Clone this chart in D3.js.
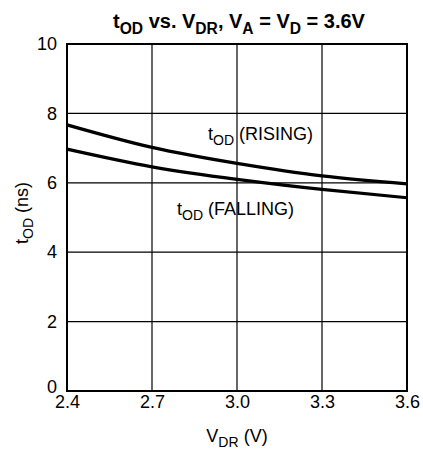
<!DOCTYPE html>
<html><head><meta charset="utf-8">
<script src="https://cdn.jsdelivr.net/npm/d3@7/dist/d3.min.js"></script>
<style>
body{margin:0;background:#fff;}
text{font-family:"Liberation Sans",Arial,sans-serif;fill:#000;}
</style></head>
<body><svg id="c" width="423" height="450"></svg>
<script>
const vdr = [2.4, 2.7, 3.0, 3.3, 3.6];
const rising = [7.67, 7.02, 6.56, 6.2, 5.97];
const falling = [6.97, 6.46, 6.1, 5.81, 5.57];
const xTicks = [2.4, 2.7, 3.0, 3.3, 3.6];
const yTicks = [0, 2, 4, 6, 8, 10];

const svg = d3.select("#c");
const m = {l:67, r:16, t:44, b:59};
const W = 423, H = 450;
const x = d3.scaleLinear().domain([2.4, 3.6]).range([m.l, W - m.r]);
const y = d3.scaleLinear().domain([0, 10]).range([H - m.b, m.t]);
const FONT = "Liberation Sans, Arial, sans-serif";

// grid
const g = svg.append("g");
g.selectAll(".vx").data(xTicks.slice(1, -1)).join("line")
  .attr("x1", d => x(d)).attr("x2", d => x(d)).attr("y1", y(0)).attr("y2", y(10))
  .attr("stroke", "#000").attr("stroke-width", 1.2);
g.selectAll(".hy").data(yTicks.slice(1, -1)).join("line")
  .attr("y1", d => y(d)).attr("y2", d => y(d)).attr("x1", x(2.4)).attr("x2", x(3.6))
  .attr("stroke", "#000").attr("stroke-width", 1.2);

// axes (labels only)
const xa = svg.append("g").attr("transform", `translate(0,${y(0)})`)
  .call(d3.axisBottom(x).tickValues(xTicks).tickFormat(d3.format(".1f")).tickSize(0).tickPadding(4));
xa.select(".domain").remove();
xa.selectAll("text").attr("font-size", 18).attr("font-family", FONT);
const ya = svg.append("g").attr("transform", `translate(${x(2.4)},0)`)
  .call(d3.axisLeft(y).tickValues(yTicks).tickFormat(d3.format("d")).tickSize(0).tickPadding(10));
ya.select(".domain").remove();
ya.selectAll("text").attr("font-size", 18).attr("font-family", FONT);
ya.selectAll(".tick").filter(d => d === 0).select("text").attr("dy", "0.1em");

// frame
svg.append("rect").attr("x", x(2.4)).attr("y", y(10))
  .attr("width", x(3.6) - x(2.4)).attr("height", y(0) - y(10))
  .attr("fill", "none").attr("stroke", "#000").attr("stroke-width", 2);

// curves
const line = d3.line().x((d, i) => x(vdr[i])).y(d => y(d)).curve(d3.curveNatural);
[rising, falling].forEach(s => {
  svg.append("path").attr("d", line(s)).attr("fill", "none")
    .attr("stroke", "#000").attr("stroke-width", 3.2);
});

function addLabel(tx, ty, parts, size, weight, anchor, rotate) {
  const t = svg.append("text").attr("x", tx).attr("y", ty).attr("font-size", size)
    .attr("font-weight", weight || "normal").attr("text-anchor", anchor || "start");
  if (rotate) t.attr("transform", `rotate(-90,${tx},${ty})`);
  parts.forEach(p => {
    const ts = t.append("tspan").text(p.t);
    if (p.sub) ts.attr("font-size", size * 0.78).attr("dy", size * 0.28);
    else if (p.back) ts.attr("dy", -size * 0.28);
  });
  return t;
}
addLabel(208, 140, [{t:"t"},{t:"OD", sub:true},{t:" (RISING)", back:true}], 18);
addLabel(177, 215, [{t:"t"},{t:"OD", sub:true},{t:" (FALLING)", back:true}], 18);

// title
addLabel(239, 28, [{t:"t"},{t:"OD", sub:true},{t:" vs. V", back:true},{t:"DR", sub:true},
  {t:", V", back:true},{t:"A", sub:true},{t:" = V", back:true},{t:"D", sub:true},{t:" = 3.6V", back:true}],
  20, "bold", "middle");

// axis titles
addLabel(237, 442, [{t:"V"},{t:"DR", sub:true},{t:" (V)", back:true}], 18, "normal", "middle");
addLabel(28, 213, [{t:"t"},{t:"OD", sub:true},{t:" (ns)", back:true}], 18, "normal", "middle", true);
</script></body></html>
